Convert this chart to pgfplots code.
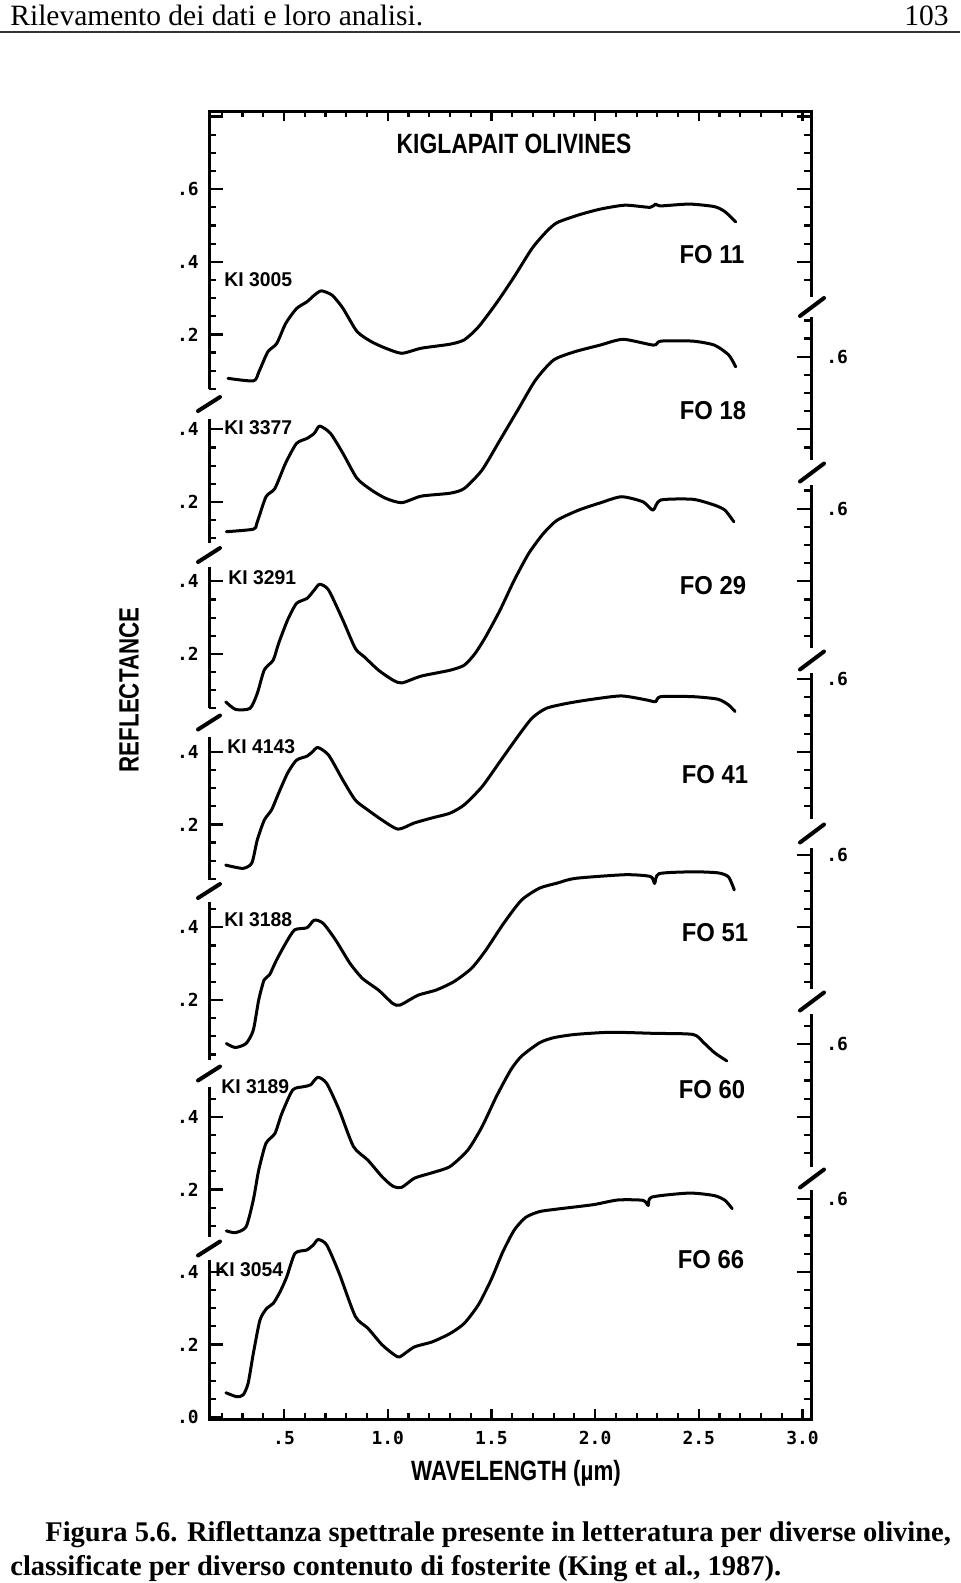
\documentclass[border=0pt]{standalone}
\usepackage{pgfplots}
\pgfplotsset{compat=1.18}
\usepackage{graphicx}
\usepackage{fontspec}
\setmainfont{Liberation Serif}
\newfontfamily\hv{Liberation Sans}
\newfontfamily\mono{DejaVu Sans Mono}

\pgfplotsset{
  base/.style={
    scale only axis, at={(104.5bp,-709.5bp)}, anchor=south west,
    width=301bp, height=654bp,
    xmin=0.1384, xmax=3.041, ymin=0, ymax=3.6033,
    axis line style={draw=none}, clip=false,
    tick style={line width=1.1bp, black},
    ticklabel style={font=\mono\bfseries\fontsize{9}{10}\selectfont, inner sep=0pt},
  },
  spec/.style={black, line width=1.5bp, line join=round, line cap=round, smooth, tension=0.4, no marks},
}

\begin{document}
\begin{tikzpicture}[x=0.5bp,y=-0.5bp]
\useasboundingbox (0,0) rectangle (960,1583);

% page header
\node[anchor=base west, inner sep=0pt, font=\fontsize{14.8}{16}\selectfont] at (10,25) {Rilevamento dei dati e loro analisi.};
\node[anchor=base east, inner sep=0pt, font=\fontsize{14.8}{16}\selectfont] at (949,25) {103};
\draw[line width=1bp, black!80] (0,32) -- (960,32);

% caption
\node[anchor=base west, inner sep=0pt, font=\bfseries\fontsize{14.3}{16}\selectfont] at (45,1541) {Figura 5.6. Riflettanza spettrale presente in letteratura per diverse olivine,};
\node[anchor=base west, inner sep=0pt, font=\bfseries\fontsize{14.3}{16}\selectfont] at (10,1575) {classificate per diverso contenuto di fosterite (King et al., 1987).};

% ---------- data + x ticks ----------
\begin{axis}[base,
  ytick=\empty,
  major tick length=5bp, minor tick length=2.8bp,
  xtick={0.5,1,1.5,2,2.5,3},
  xticklabels={.5,1.0,1.5,2.0,2.5,3.0},
  minor xtick={0.2,0.3,0.4,0.6,0.7,0.8,0.9,1.1,1.2,1.3,1.4,1.6,1.7,1.8,1.9,2.1,2.2,2.3,2.4,2.6,2.7,2.8,2.9},
  xticklabel style={anchor=north, yshift=-6bp},
]
% FO 11 (KI 3005)
\addplot[spec] table[x=x, y expr=\thisrow{r}+2.7879] {
x r
0.230 0.079
0.353 0.072
0.379 0.097
0.422 0.152
0.465 0.175
0.508 0.230
0.560 0.271
0.611 0.290
0.646 0.308
0.680 0.320
0.732 0.308
0.784 0.272
0.852 0.208
0.921 0.180
0.990 0.162
1.068 0.148
1.162 0.162
1.300 0.173
1.369 0.185
1.438 0.221
1.524 0.286
1.610 0.359
1.696 0.437
1.765 0.483
1.817 0.508
1.920 0.529
2.024 0.545
2.144 0.556
2.265 0.550
2.291 0.559
2.316 0.554
2.454 0.559
2.575 0.552
2.626 0.538
2.678 0.510
};
% FO 18 (KI 3377)
\addplot[spec] table[x=x, y expr=\thisrow{r}+2.3264] {
x r
0.222 0.118
0.353 0.125
0.369 0.141
0.413 0.214
0.456 0.237
0.507 0.306
0.560 0.361
0.611 0.375
0.646 0.389
0.672 0.409
0.724 0.389
0.784 0.334
0.852 0.265
0.921 0.233
0.990 0.210
1.068 0.198
1.162 0.216
1.300 0.224
1.369 0.237
1.455 0.288
1.541 0.370
1.627 0.453
1.713 0.536
1.800 0.591
1.903 0.614
2.024 0.632
2.135 0.648
2.282 0.632
2.316 0.643
2.471 0.643
2.575 0.632
2.644 0.605
2.678 0.572
};
% FO 29 (KI 3291)
\addplot[spec] table[x=x, y expr=\thisrow{r}+1.9077] {
x r
0.219 0.068
0.267 0.047
0.336 0.050
0.371 0.091
0.405 0.156
0.448 0.183
0.474 0.229
0.517 0.293
0.560 0.339
0.611 0.353
0.646 0.376
0.672 0.392
0.715 0.376
0.784 0.293
0.844 0.215
0.887 0.192
0.956 0.155
1.025 0.128
1.068 0.120
1.162 0.139
1.300 0.155
1.369 0.169
1.421 0.201
1.472 0.247
1.541 0.320
1.610 0.403
1.679 0.476
1.748 0.530
1.816 0.568
1.920 0.596
2.024 0.616
2.127 0.633
2.231 0.619
2.279 0.596
2.316 0.624
2.471 0.626
2.575 0.610
2.626 0.596
2.669 0.564
};
% FO 41 (KI 4143)
\addplot[spec] table[x=x, y expr=\thisrow{r}+1.4380] {
x r
0.219 0.088
0.302 0.079
0.345 0.094
0.371 0.157
0.405 0.212
0.440 0.240
0.474 0.286
0.517 0.341
0.560 0.377
0.611 0.388
0.637 0.400
0.663 0.412
0.715 0.391
0.784 0.322
0.844 0.267
0.904 0.240
0.973 0.212
1.050 0.187
1.128 0.204
1.214 0.218
1.300 0.231
1.369 0.254
1.455 0.304
1.541 0.373
1.627 0.442
1.696 0.493
1.765 0.520
1.869 0.534
1.989 0.545
2.127 0.554
2.248 0.543
2.291 0.538
2.316 0.552
2.471 0.552
2.592 0.545
2.644 0.529
2.675 0.511
};
% FO 51 (KI 3188)
\addplot[spec] table[x=x, y expr=\thisrow{r}+0.9545] {
x r
0.222 0.080
0.265 0.069
0.317 0.080
0.352 0.117
0.378 0.200
0.404 0.255
0.430 0.269
0.464 0.310
0.508 0.356
0.551 0.393
0.611 0.399
0.646 0.420
0.689 0.411
0.749 0.365
0.818 0.301
0.879 0.259
0.956 0.227
1.025 0.190
1.060 0.186
1.146 0.213
1.232 0.227
1.318 0.250
1.404 0.287
1.473 0.337
1.559 0.411
1.645 0.475
1.732 0.508
1.818 0.522
1.905 0.535
2.146 0.545
2.267 0.540
2.287 0.521
2.309 0.548
2.473 0.553
2.594 0.550
2.643 0.539
2.671 0.503
};
% FO 60 (KI 3189)
\addplot[spec] table[x=x, y expr=\thisrow{r}+0.4325] {
x r
0.222 0.086
0.265 0.081
0.317 0.097
0.352 0.171
0.378 0.253
0.413 0.327
0.456 0.354
0.490 0.410
0.542 0.474
0.594 0.483
0.628 0.488
0.663 0.509
0.706 0.492
0.766 0.419
0.835 0.318
0.904 0.281
0.973 0.235
1.025 0.209
1.068 0.206
1.129 0.231
1.214 0.246
1.300 0.263
1.387 0.309
1.455 0.373
1.524 0.456
1.593 0.529
1.645 0.567
1.732 0.604
1.800 0.618
1.904 0.627
2.076 0.633
2.283 0.630
2.472 0.627
2.524 0.604
2.575 0.577
2.635 0.554
};
% FO 66 (KI 3054)
\addplot[spec] table[x=x, y expr=\thisrow{r}+0.0055] {
x r
0.220 0.067
0.272 0.056
0.303 0.061
0.327 0.093
0.352 0.175
0.384 0.267
0.416 0.299
0.448 0.313
0.481 0.345
0.513 0.386
0.553 0.451
0.609 0.460
0.641 0.474
0.665 0.489
0.706 0.474
0.766 0.396
0.844 0.277
0.904 0.245
0.973 0.199
1.033 0.171
1.059 0.166
1.128 0.193
1.214 0.207
1.300 0.230
1.369 0.258
1.438 0.310
1.500 0.380
1.555 0.455
1.610 0.515
1.665 0.550
1.732 0.566
1.818 0.573
1.990 0.585
2.110 0.598
2.231 0.597
2.256 0.583
2.273 0.606
2.454 0.617
2.575 0.610
2.626 0.597
2.661 0.574
};
\end{axis}

% ---------- left ticks ----------
\begin{axis}[base,
  xtick=\empty, minor xtick={},
  major tick length=7bp, minor tick length=3.5bp,
  ytick pos=left,
  ytick={0.0055,0.2055,0.4055,0.6325,0.8325,1.1545,1.3545,1.638,1.838,2.1077,2.3077,2.5264,2.7264,2.9879,3.1879,3.3879,3.5879},
  yticklabels={.0,.2,.4,.2,.4,.2,.4,.2,.4,.2,.4,.2,.4,.2,.4,.6,{}},
  minor ytick={0.0555,0.1055,0.1555,0.2555,0.3055,0.3555,
    0.5325,0.5825,0.6825,0.7325,0.7825,0.8825,
    1.0045,1.0545,1.1045,1.2045,1.2545,1.3045,1.4045,
    1.488,1.538,1.588,1.688,1.738,1.788,
    1.9577,2.0077,2.0577,2.1577,2.2077,2.2577,
    2.4264,2.4764,2.5764,2.6264,2.6764,
    2.8379,2.8879,2.9379,3.0379,3.0879,3.1379,3.2379,3.2879,3.3379,3.4379,3.4879,3.5379},
  yticklabel style={anchor=east, xshift=-5bp},
]
\end{axis}

% ---------- right ticks ----------
\begin{axis}[base,
  xtick=\empty, minor xtick={},
  major tick length=7bp, minor tick length=3.5bp,
  ytick pos=right, yticklabel pos=right,
  ytick={0.2055,0.4055,0.6055,0.8325,1.0325,1.3545,1.5545,1.838,2.038,2.3077,2.5077,2.7264,2.9264,3.1879,3.3879,3.5879},
  yticklabels={{},{},.6,{},.6,{},.6,{},.6,{},.6,{},.6,{},{},{}},
  minor ytick={0.0555,0.1055,0.1555,0.2555,0.3055,0.3555,0.4555,0.5055,0.5555,
    0.7325,0.7825,0.8825,0.9325,0.9825,1.0825,
    1.2045,1.2545,1.3045,1.4045,1.4545,1.5045,
    1.688,1.738,1.788,1.888,1.938,1.988,
    2.1577,2.2077,2.2577,2.3577,2.4077,2.4577,2.5577,
    2.6764,2.7764,2.8264,2.8764,2.9764,3.0264,
    3.1379,3.2379,3.2879,3.3379,3.4379,3.4879,3.5379},
  yticklabel style={anchor=west, xshift=7.5bp},
]
\end{axis}

% ---------- broken frame ----------
\begin{scope}[line width=1.5bp, line join=miter]
\draw (209,389) -- (209,111) -- (811,111) -- (811,297);
\draw (209,1260) -- (209,1419) -- (811,1419) -- (811,1190);
\foreach \a/\b in {419/543,567/708,737/880,902/1060,1087/1237}
  \draw (209,\a) -- (209,\b);
\foreach \a/\b in {317/460,485/648,673/819,848/989,1014/1167}
  \draw (811,\a) -- (811,\b);
\end{scope}
\begin{scope}[line width=2bp, line cap=round]
\foreach \c in {404,555,722.5,891,1073.5,1248.5}
  \draw (198,\c+7) -- (220,\c-7);
\foreach \c in {307,472.5,660.5,833.5,1001.5,1178.5}
  \draw (800,\c+9) -- (824,\c-9);
\end{scope}

% ---------- labels ----------
\node[font=\hv\bfseries\fontsize{14}{16}\selectfont, inner sep=0pt] at (514,144) {\scalebox{0.82}[1]{KIGLAPAIT OLIVINES}};
\node[rotate=90, font=\hv\bfseries\fontsize{14}{16}\selectfont, inner sep=0pt] at (129,690) {\scalebox{0.8}[1]{REFLECTANCE}};
\node[anchor=base, font=\hv\bfseries\fontsize{14}{16}\selectfont, inner sep=0pt] at (516,1480) {\scalebox{0.8}[1]{WAVELENGTH (µm)}};

\foreach \t/\x/\y in {FO 11/712/255, FO 18/713/411, FO 29/713/586, FO 41/715/775, FO 51/715/933, FO 60/712/1090, FO 66/711/1260}
  \node[font=\hv\bfseries\fontsize{13}{15}\selectfont, inner sep=0pt] at (\x,\y) {\scalebox{0.92}[1]{\t}};

\foreach \t/\x/\y in {KI 3005/224/280, KI 3377/224/428, KI 3291/228/578, KI 4143/227/747, KI 3188/224/920, KI 3189/221/1087, KI 3054/215/1270}
  \node[anchor=west, font=\hv\bfseries\fontsize{10}{12}\selectfont, inner sep=0pt] at (\x,\y) {\scalebox{0.97}[1]{\t}};
\end{tikzpicture}
\end{document}
